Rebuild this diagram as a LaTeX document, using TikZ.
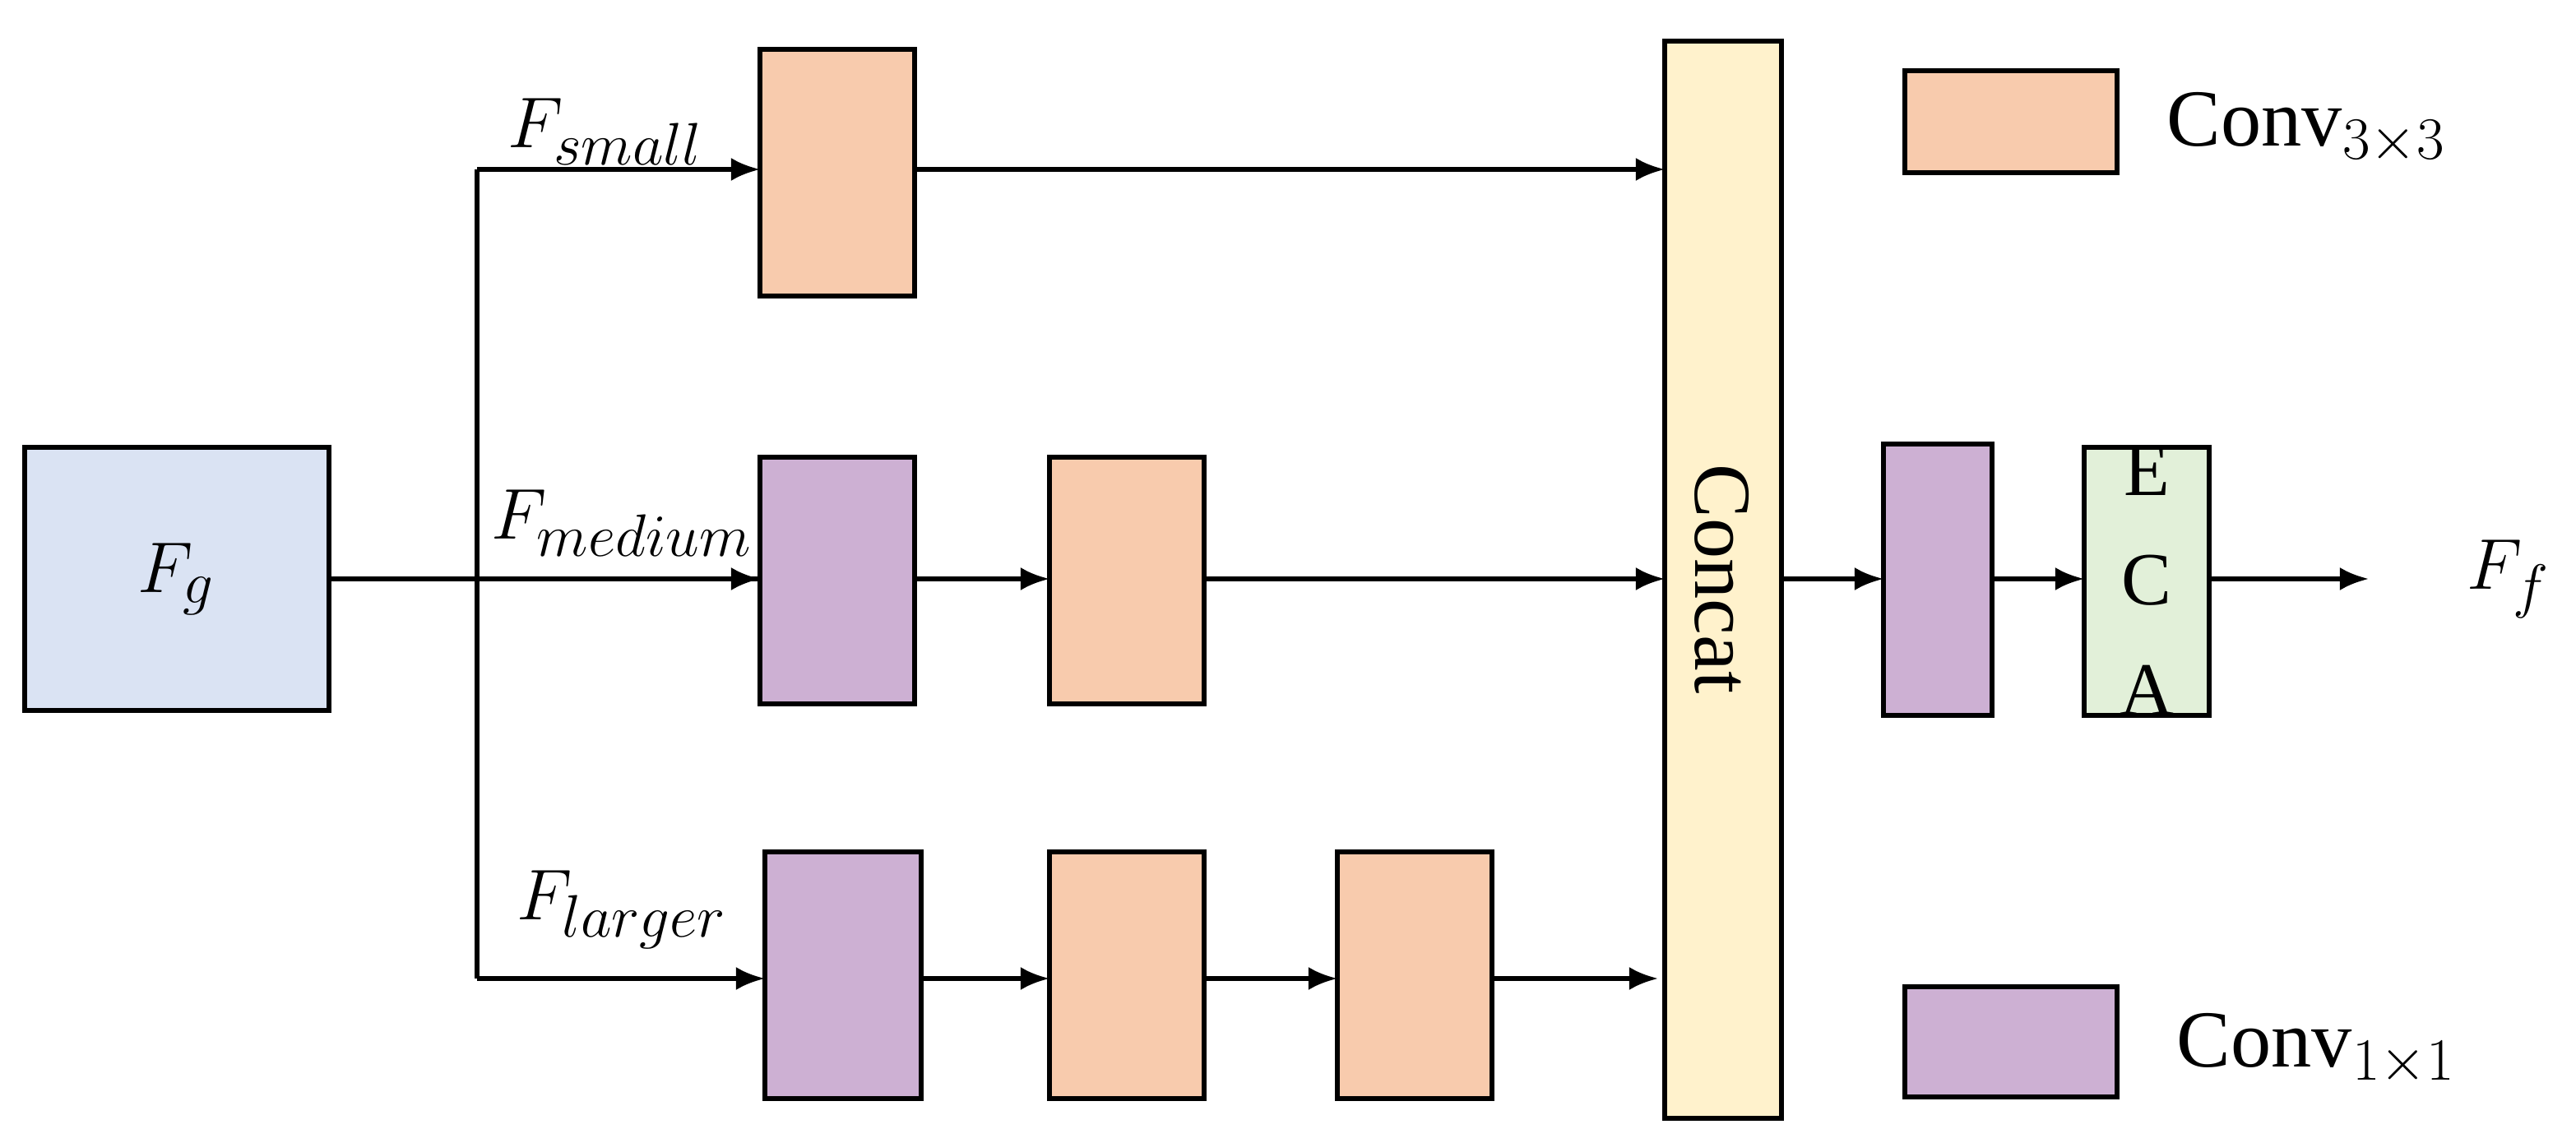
\documentclass[tikz,border=0pt]{standalone}
\usepackage{fontspec}
\setmainfont{Liberation Serif}
\usetikzlibrary{arrows.meta}
\definecolor{cor}{HTML}{F8CBAD}
\definecolor{cpu}{HTML}{CDB0D3}
\definecolor{cbl}{HTML}{DAE3F3}
\definecolor{cye}{HTML}{FFF2CC}
\definecolor{cgr}{HTML}{E2F0D9}
\begin{document}
\begin{tikzpicture}[x=0.02cm,y=-0.02cm,line width=1.6pt,
  box/.style={draw,line width=1.6pt},
  arr/.style={-{Latex[length=10pt,width=8pt]},line width=1.6pt},
  lab/.style={font=\fontsize{28}{30}\selectfont,inner sep=0pt}]
\useasboundingbox (0,0) rectangle (1566,686.5);
\fill[white] (0,0) rectangle (1566,686.5);
\draw[box,fill=cbl] (15,272) rectangle (200,432); \node[lab] (fg) at (107,352) {$F_g$};
\coordinate (fgr) at (200,352);
% small
\draw[box,fill=cor] (462,30) rectangle (556,180); \coordinate (s1) at (509,105);
% medium
\draw[box,fill=cpu] (462,278) rectangle (556,428);
\draw[box,fill=cor] (638,278) rectangle (732,428);
% larger
\draw[box,fill=cpu] (465,518) rectangle (560,668);
\draw[box,fill=cor] (638,518) rectangle (732,668);
\draw[box,fill=cor] (813,518) rectangle (907,668);
% concat
\draw[box,fill=cye] (1012,25) rectangle (1083,680);
\node[lab,rotate=-90] (cc) at (1047,352) {Concat};
\draw[box,fill=cpu] (1145,270) rectangle (1211,435);
\draw[box,fill=cgr] (1267,272) rectangle (1343,435);
\node[lab,align=center,font=\fontsize{26}{38}\selectfont] (eca) at (1305,353) {E\\C\\A};
\node[lab] (ff) at (1525,352) {$F_f$};
% legend
\draw[box,fill=cor] (1158,43) rectangle (1287,105);
\node[lab,anchor=west] (l1) at (1316,78) {Conv$_{3\times3}$};
\draw[box,fill=cpu] (1158,600) rectangle (1287,667);
\node[lab,anchor=west] (l2) at (1322,638) {Conv$_{1\times1}$};
% connectors
\draw (200,352) -- (462,352);
\draw (290,103) -- (290,595);
\draw[arr] (290,103) -- (462,103);
\draw[arr] (290,352) -- (462,352);
\draw[arr] (290,595) -- (465,595);
\draw[arr] (556,103) -- (1012,103);
\draw[arr] (556,352) -- (638,352);
\draw[arr] (732,352) -- (1012,352);
\draw[arr] (560,595) -- (638,595);
\draw[arr] (732,595) -- (813,595);
\draw[arr] (907,595) -- (1008,595);
\draw[arr] (1083,352) -- (1145,352);
\draw[arr] (1211,352) -- (1267,352);
\draw[arr] (1343,352) -- (1440,352);
\node[lab] (ls) at (368,80) {$F_{small}$};
\node[lab] (lm) at (378,318) {$F_{medium}$};
\node[lab] (ll) at (378,553) {$F_{larger}$};
\end{tikzpicture}
\end{document}
